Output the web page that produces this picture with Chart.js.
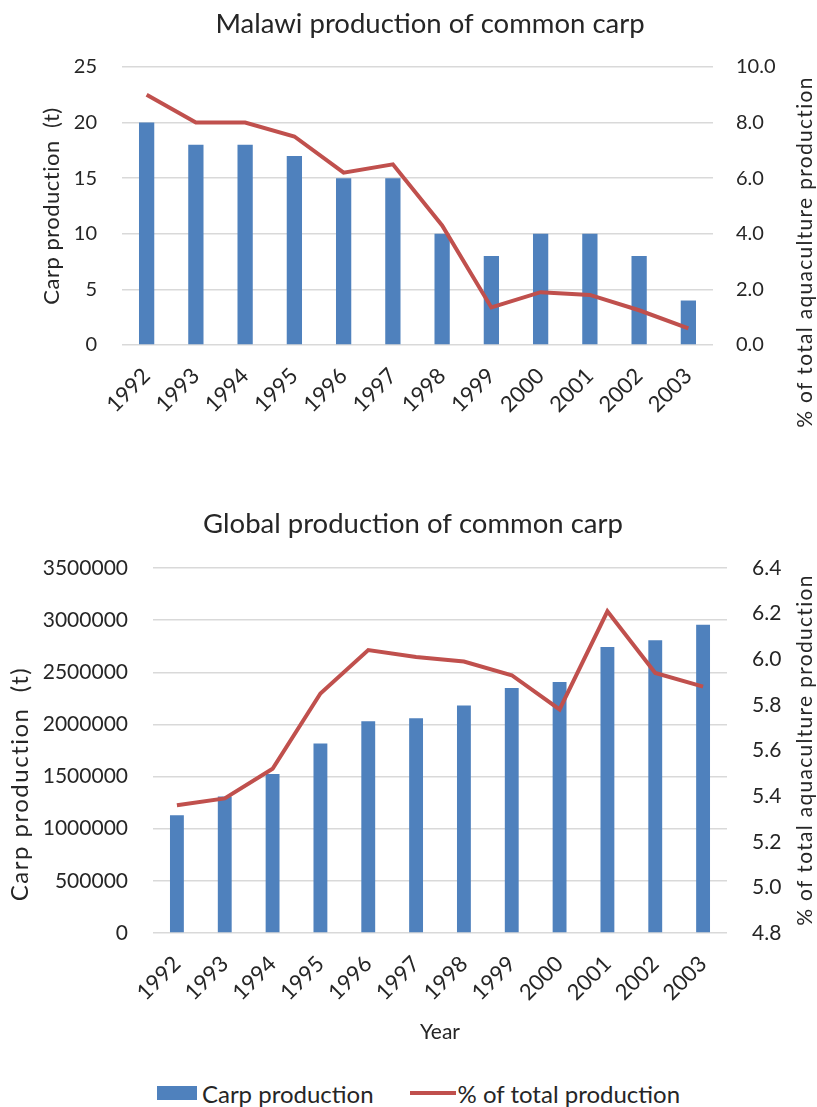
<!DOCTYPE html>
<html>
<head>
<meta charset="utf-8">
<script src="https://cdn.jsdelivr.net/npm/chart.js@4.4.0/dist/chart.umd.min.js"></script>
<style>
  body { margin: 0; background: #fff; font-family: Lato, sans-serif; }
  .page { position: relative; width: 817px; height: 1107px; overflow: hidden; }
  .chart-box { position: absolute; left: 0; width: 817px; }
  #malawiBox { top: 0; height: 450px; }
  #globalBox { top: 480px; height: 580px; }
  .chart-legend {
    position: absolute; left: 10px; top: 1078px; width: 817px; height: 30px;
    display: flex; justify-content: center; align-items: center; gap: 36px;
    font-size: 24px; color: #262626;
  }
  .legend-item { display: flex; align-items: center; }
  .legend-color { margin-right: 5px; }
  .legend-color.blue { width: 40px; height: 14px; background: #4f81bd; }
  .legend-color.red { width: 46px; height: 4px; background: #c0504d; margin-right: 2px; }
</style>
</head>
<body>
<div class="page">
  <div class="chart-box" id="malawiBox"><canvas id="malawiChart"></canvas></div>
  <div class="chart-box" id="globalBox"><canvas id="globalChart"></canvas></div>
  <div class="chart-legend">
    <div class="legend-item"><div class="legend-color blue"></div><span>Carp production</span></div>
    <div class="legend-item"><div class="legend-color red"></div><span>% of total production</span></div>
  </div>
</div>
<script>
// data
const years = ['1992', '1993', '1994', '1995', '1996', '1997', '1998', '1999', '2000', '2001', '2002', '2003'];
const malawiCarp = [20, 18, 18, 17, 15, 15, 10, 8, 10, 10, 8, 4];
const malawiShare = [9.0, 8.0, 8.0, 7.5, 6.2, 6.5, 4.3, 1.35, 1.9, 1.8, 1.25, 0.6];
const globalCarp = [1130000, 1310000, 1525000, 1818000, 2030000, 2060000, 2182000, 2350000, 2408000, 2742000, 2806000, 2955000];
const globalShare = [5.36, 5.39, 5.52, 5.85, 6.04, 6.01, 5.99, 5.93, 5.78, 6.21, 5.94, 5.88];

// axis ranges: [min, max, step]
const malawiCarpAxis = [0, 25, 5];
const malawiShareAxis = [0, 10, 2];
const globalCarpAxis = [0, 3500000, 500000];
const globalShareAxis = [4.8, 6.4, 0.2];

const textColor = '#262626';
const gridColor = '#d9d9d9';
const barColor = '#4f81bd';
const lineColor = '#c0504d';

Chart.defaults.font.family = 'Lato, sans-serif';
Chart.defaults.color = textColor;

// chart titles and axis titles placed like the original
// (right axis title reads bottom-to-top, which Chart.js can't do)
const placedText = {
  id: 'placedText',
  afterDraw(chart, args, opts) {
    const ctx = chart.ctx;
    (opts.items || []).forEach(t => {
      ctx.save();
      ctx.translate(t.x, t.y);
      if (t.vertical) ctx.rotate(-Math.PI / 2);
      ctx.font = t.size + 'px Lato, sans-serif';
      if ('letterSpacing' in ctx) ctx.letterSpacing = (t.spacing || 0) + 'px';
      ctx.fillStyle = textColor;
      ctx.textAlign = 'center';
      ctx.textBaseline = 'middle';
      ctx.fillText(t.text, 0, 0);
      ctx.restore();
    });
  }
};

function makeChart(canvasId, cfg) {
  const ctx = document.getElementById(canvasId).getContext('2d');
  return new Chart(ctx, {
    type: 'bar',
    data: {
      labels: years,
      datasets: [
        {
          type: 'line',
          label: '% of total production',
          data: cfg.share,
          yAxisID: 'y1',
          borderColor: lineColor,
          backgroundColor: lineColor,
          borderWidth: 4,
          pointRadius: 0,
          tension: 0,
          order: 0
        },
        {
          label: 'Carp production',
          data: cfg.carp,
          yAxisID: 'y',
          backgroundColor: barColor,
          categoryPercentage: 1,
          barPercentage: cfg.barPct,
          order: 1
        }
      ]
    },
    options: {
      responsive: true,
      maintainAspectRatio: false,
      animation: false,
      layout: { padding: { top: cfg.plotTop, left: 0, right: 0, bottom: 0 } },
      plugins: {
        legend: { display: false },
        tooltip: { enabled: false },
        placedText: { items: cfg.texts }
      },
      scales: {
        x: {
          grid: { display: false },
          border: { display: false },
          ticks: {
            font: { size: 22 },
            color: textColor,
            minRotation: 45,
            maxRotation: 45,
            autoSkip: false,
            padding: 10
          },
          title: cfg.xTitle ? {
            display: true,
            text: cfg.xTitle,
            color: textColor,
            font: { size: 21 },
            padding: { top: 0, bottom: 15 }
          } : { display: false },
          afterFit: s => { s.height = cfg.xHeight; }
        },
        y: {
          position: 'left',
          min: cfg.carpAxis[0],
          max: cfg.carpAxis[1],
          ticks: {
            stepSize: cfg.carpAxis[2],
            padding: 25,
            font: { size: cfg.tickSize },
            color: textColor,
            callback: v => String(v)
          },
          grid: { color: gridColor, lineWidth: 1.5, drawTicks: false },
          border: { display: false },
          afterFit: s => { s.width = cfg.leftWidth; }
        },
        y1: {
          position: 'right',
          min: cfg.shareAxis[0],
          max: cfg.shareAxis[1],
          ticks: {
            stepSize: cfg.shareAxis[2],
            padding: cfg.rightPad,
            font: { size: cfg.tickSize },
            color: textColor,
            callback: v => Number(v).toFixed(1)
          },
          grid: { drawOnChartArea: false, drawTicks: false },
          border: { display: false },
          afterFit: s => { s.width = cfg.rightWidth; }
        }
      }
    },
    plugins: [placedText]
  });
}

makeChart('malawiChart', {
  carp: malawiCarp,
  share: malawiShare,
  carpAxis: malawiCarpAxis,
  shareAxis: malawiShareAxis,
  barPct: 0.31,
  tickSize: 20,
  plotTop: 67,
  xHeight: 105,
  leftWidth: 122,
  rightWidth: 104,
  rightPad: 23,
  texts: [
    { text: 'Malawi production of common carp', x: 430, y: 24, size: 27.5 },
    { text: 'Carp production  (t)', x: 52, y: 206, size: 22, spacing: 0.5, vertical: true },
    { text: '% of total aquaculture production', x: 805, y: 252, size: 21, spacing: 1.3, vertical: true }
  ]
});

makeChart('globalChart', {
  carp: globalCarp,
  share: globalShare,
  carpAxis: globalCarpAxis,
  shareAxis: globalShareAxis,
  barPct: 0.29,
  tickSize: 21,
  plotTop: 88,
  xHeight: 127,
  xTitle: 'Year',
  leftWidth: 153,
  rightWidth: 90,
  rightPad: 25,
  texts: [
    { text: 'Global production of common carp', x: 413, y: 44, size: 27.5 },
    { text: 'Carp production  (t)', x: 20, y: 304, size: 24, spacing: 1.5, vertical: true },
    { text: '% of total aquaculture production', x: 805, y: 270, size: 21, spacing: 1.3, vertical: true }
  ]
});
</script>
</body>
</html>
